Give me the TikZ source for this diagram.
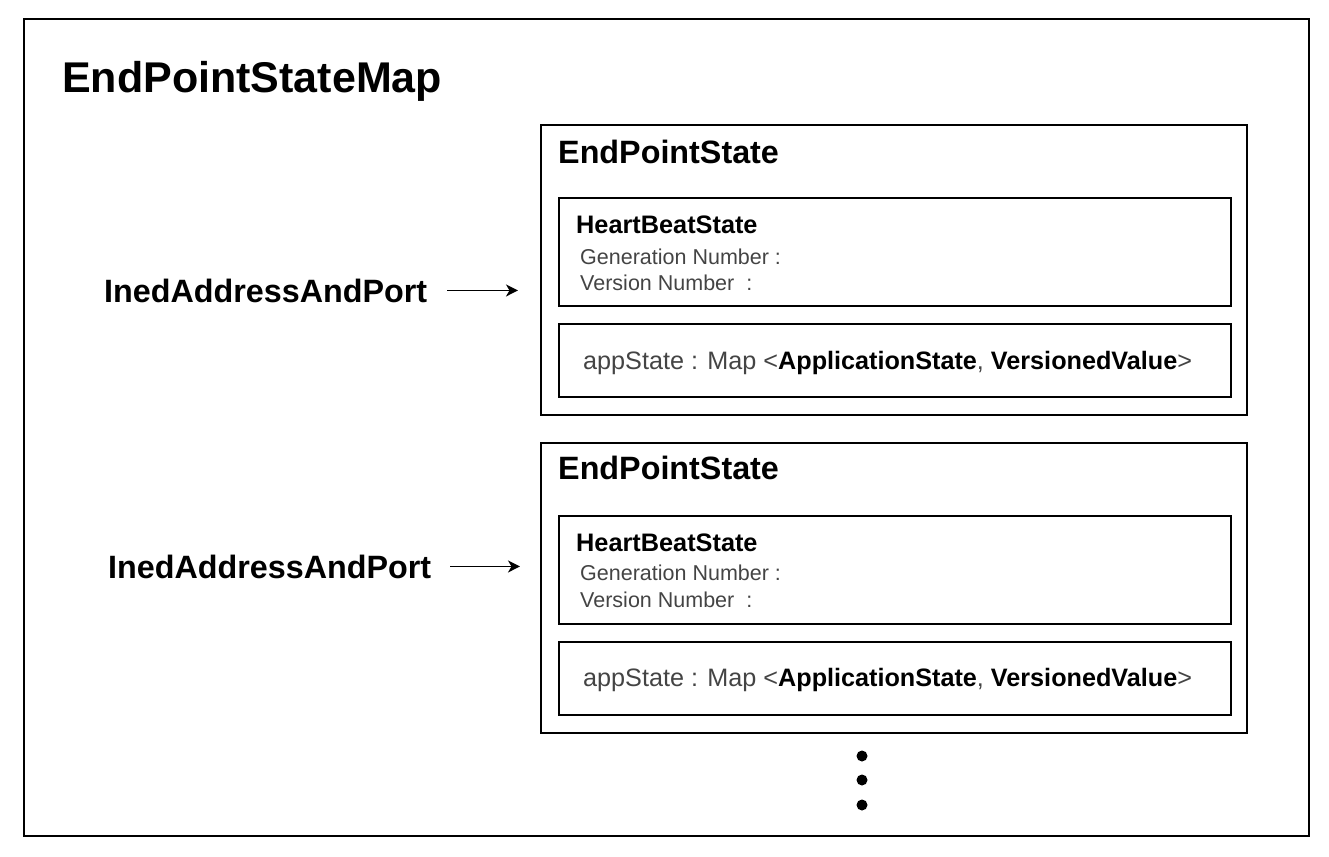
\documentclass[tikz,border=0pt]{standalone}
\usepackage{fontspec}
\setmainfont{Liberation Sans}
\usetikzlibrary{arrows.meta}

\definecolor{txtgray}{RGB}{68,68,68}

\tikzset{
    frame/.style={draw=black, line width=1.8pt, anchor=north west, inner sep=0pt},
    label/.style={anchor=base west, inner sep=0pt},
    ptr/.style={-{Stealth[length=12pt,width=12pt,inset=3.5pt]}, line width=1.8pt}
}

\begin{document}
\begin{tikzpicture}[x=1pt, y=-1pt]

        \useasboundingbox (0,0) rectangle (1329,856);
        \node[frame, minimum width=1285pt, minimum height=817pt] (map) at (23,18) {};
        \node[label, font=\fontsize{43}{50}\selectfont\bfseries] (maptitle) at (62,93) {EndPointStateMap};

        % first entry
        \node[frame, minimum width=706pt, minimum height=290pt] (eps1) at (540,124) {};
        \node[label, font=\fontsize{32.3}{37}\selectfont\bfseries] (epstitle1) at (558,163) {EndPointState};
        \node[frame, minimum width=672pt, minimum height=108pt] (hbs1) at (558,197) {};
        \node[label, font=\fontsize{25.3}{29}\selectfont\bfseries] (hbstitle1) at (576,233) {HeartBeatState};
        \node[label, font=\fontsize{21.5}{25}\selectfont, text=txtgray] (gen1) at (580,264) {Generation Number :};
        \node[label, font=\fontsize{21.5}{25}\selectfont, text=txtgray] (ver1) at (580,290) {Version Number \ :};
        \node[frame, minimum width=672pt, minimum height=73pt] (app1) at (558,323) {};
        \node[label, font=\fontsize{25.2}{30}\selectfont] (apptext1) at (583,369)
            {{\color{txtgray}appState : Map <}\textbf{ApplicationState}{\color{txtgray}, }\textbf{VersionedValue}{\color{txtgray}>}};
        \node[label, font=\fontsize{32.3}{37}\selectfont\bfseries] (key1) at (104,302) {InedAddressAndPort};
        \draw[ptr, shorten <=20pt, shorten >=22pt] (key1.east) -- (key1.east -| eps1.west);

        % second entry
        \node[frame, minimum width=706pt, minimum height=290pt] (eps2) at (540,442) {};
        \node[label, font=\fontsize{32.3}{37}\selectfont\bfseries] (epstitle2) at (558,479) {EndPointState};
        \node[frame, minimum width=672pt, minimum height=108pt] (hbs2) at (558,515) {};
        \node[label, font=\fontsize{25.3}{29}\selectfont\bfseries] (hbstitle2) at (576,551) {HeartBeatState};
        \node[label, font=\fontsize{21.5}{25}\selectfont, text=txtgray] (gen2) at (580,580) {Generation Number :};
        \node[label, font=\fontsize{21.5}{25}\selectfont, text=txtgray] (ver2) at (580,607) {Version Number \ :};
        \node[frame, minimum width=672pt, minimum height=73pt] (app2) at (558,641) {};
        \node[label, font=\fontsize{25.2}{30}\selectfont] (apptext2) at (583,686)
            {{\color{txtgray}appState : Map <}\textbf{ApplicationState}{\color{txtgray}, }\textbf{VersionedValue}{\color{txtgray}>}};
        \node[label, font=\fontsize{32.3}{37}\selectfont\bfseries] (key2) at (108,578) {InedAddressAndPort};
        \draw[ptr, shorten <=19pt, shorten >=20pt] (key2.east) -- (key2.east -| eps2.west);

        % more entries
        \fill (862,756) circle (5.5);
        \fill (862,780) circle (5.5);
        \fill (862,805) circle (5.5);
    \end{tikzpicture}
\end{document}
